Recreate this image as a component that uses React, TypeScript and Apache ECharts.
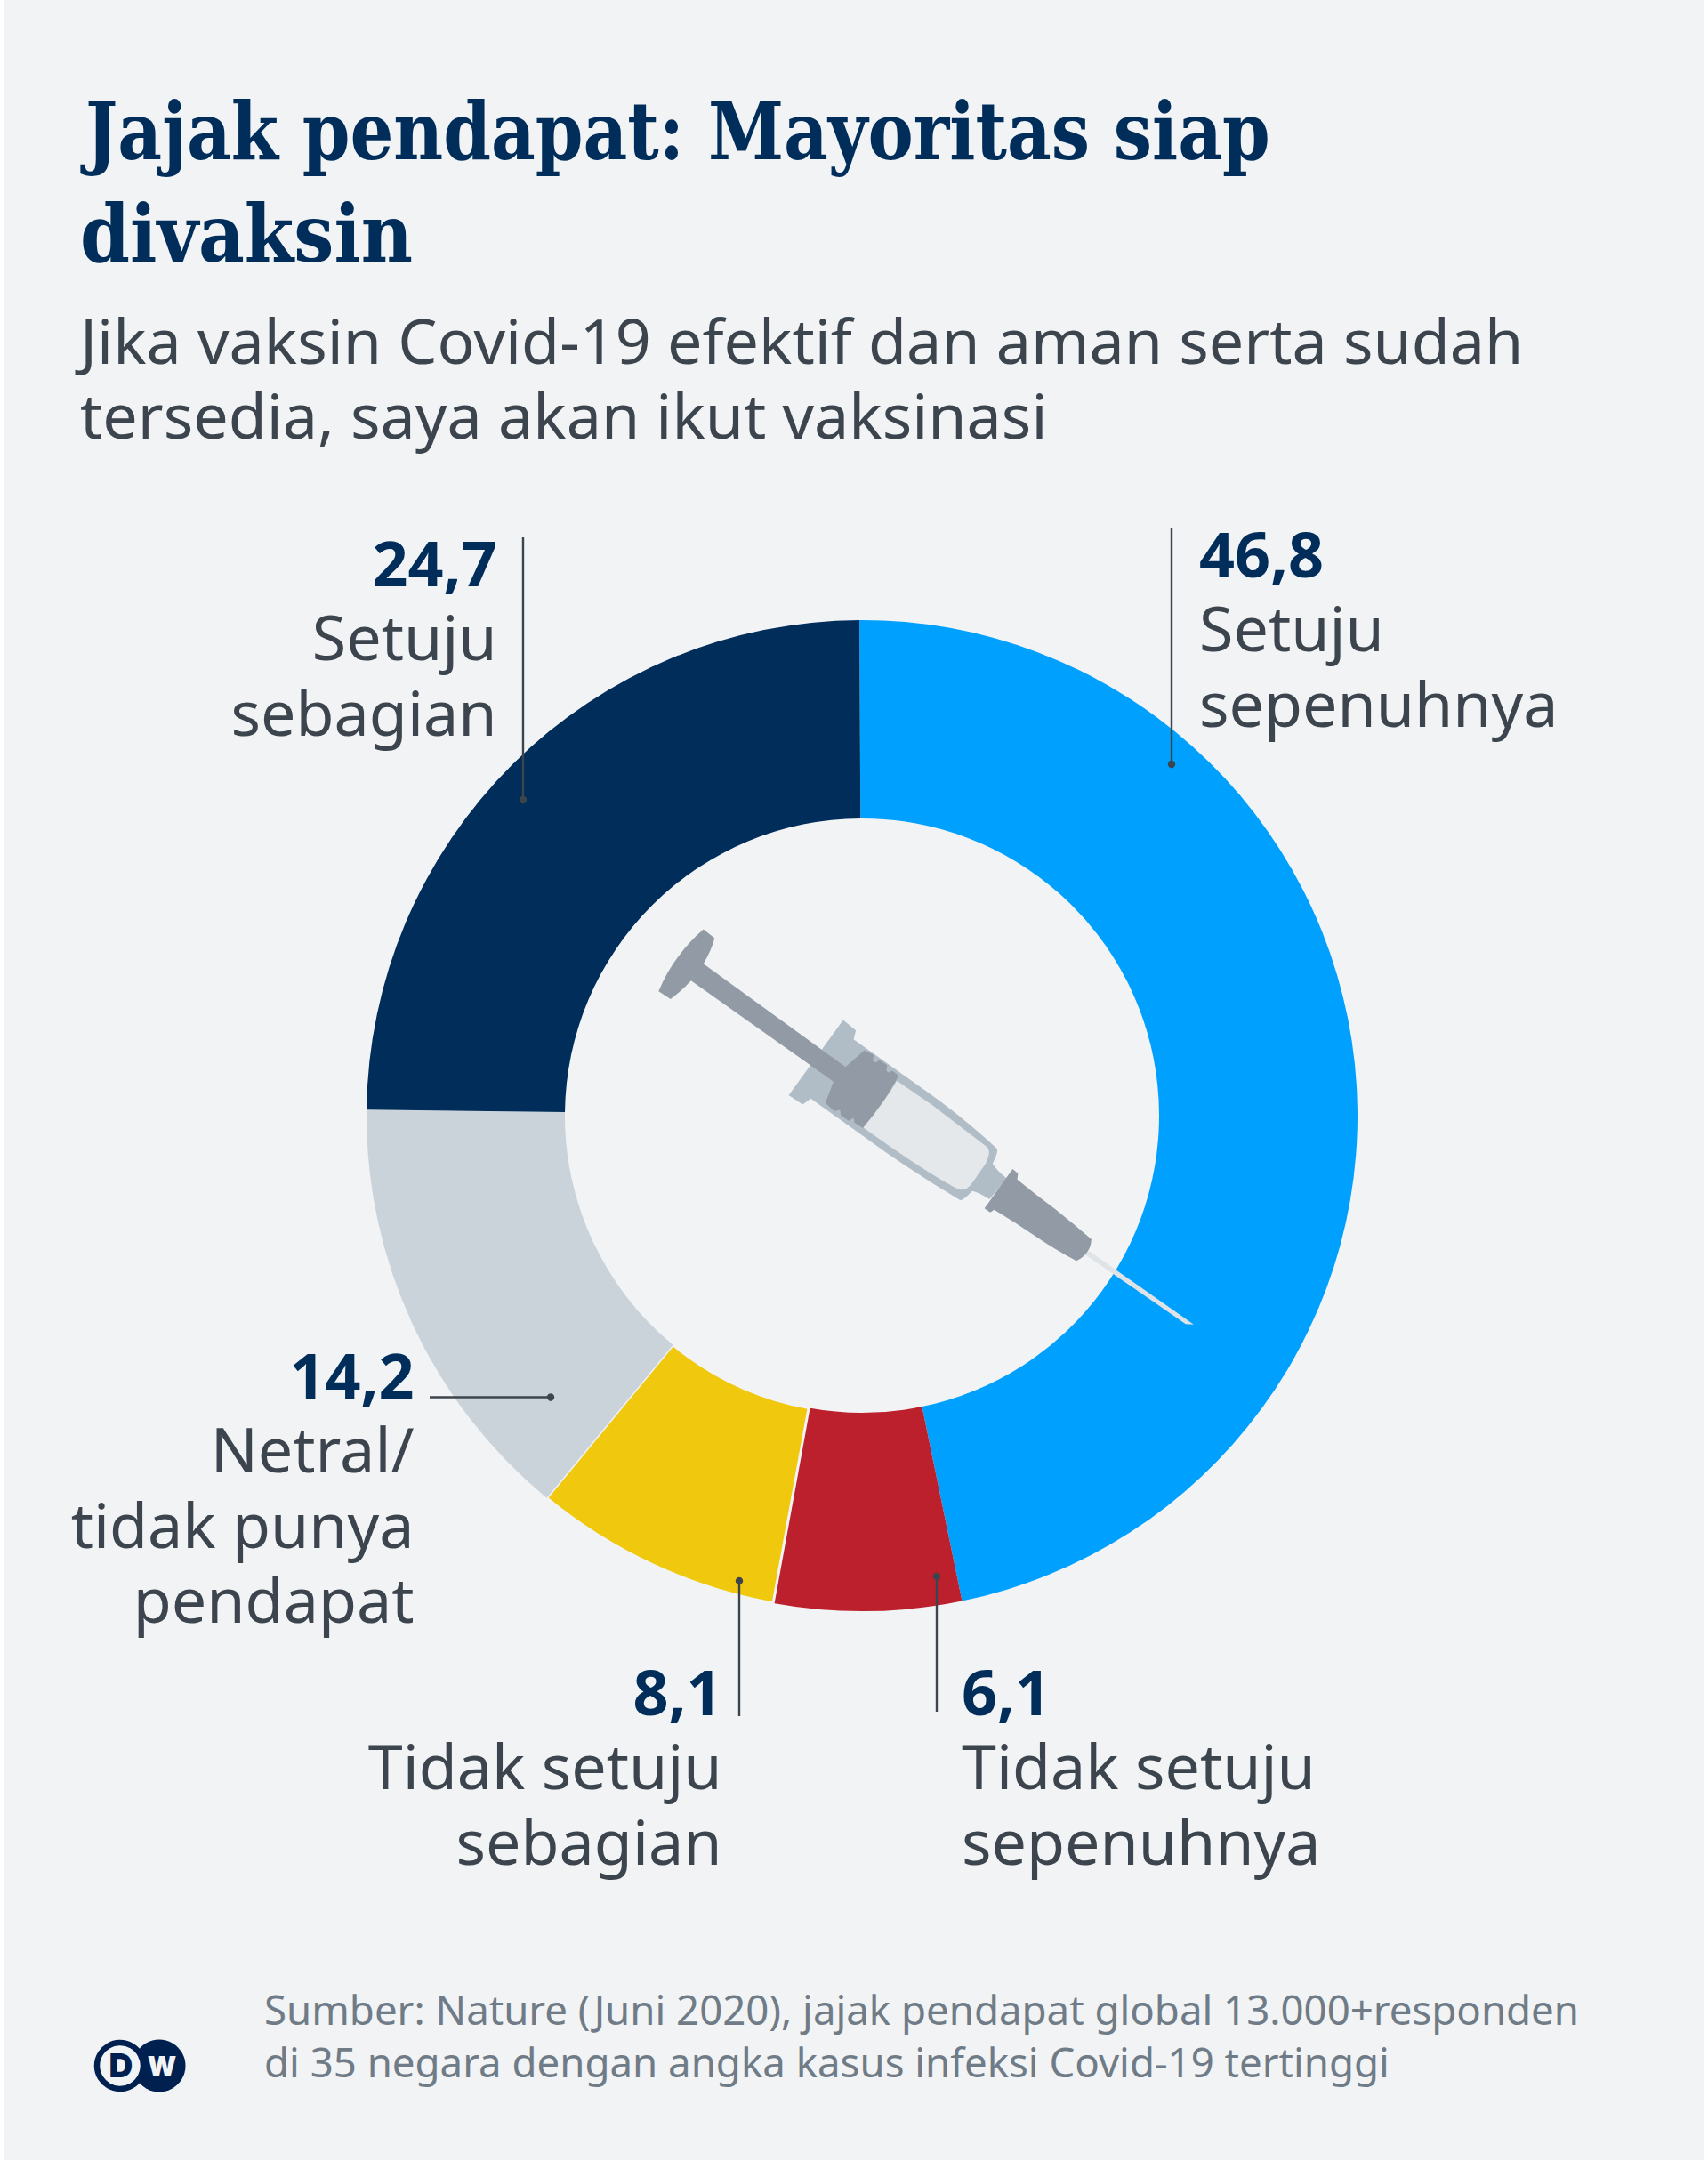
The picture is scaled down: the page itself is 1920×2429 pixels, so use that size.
import React, { useEffect, useRef } from "react";
import * as echarts from "echarts";

const categories = ["Setuju sepenuhnya", "Tidak setuju sepenuhnya", "Tidak setuju sebagian", "Netral/tidak punya pendapat", "Setuju sebagian"];
const values = [46.8, 6.1, 8.1, 14.2, 24.7];
const colors = ["#00a0ff", "#bc202d", "#f0c80e", "#cbd3da", "#002d5a"];
const valueLabels = ["46,8", "6,1", "8,1", "14,2", "24,7"];
const nameLines = [["Setuju", "sepenuhnya"], ["Tidak setuju", "sepenuhnya"], ["Tidak setuju", "sebagian"], ["Netral/", "tidak punya", "pendapat"], ["Setuju", "sebagian"]];
const labelX = [1348, 1081, 811.5, 465.5, 558.5];
const labelY = [648, 1927, 1927, 1571, 658];
const labelAlign = ["left", "left", "right", "right", "right"];
const leaders = [
  [1317, 594, 1317, 859],
  [1053, 1924, 1053, 1772],
  [831, 1929, 831, 1777],
  [483, 1570.5, 619, 1570.5],
  [588, 604, 588, 899],
];
const titleLines = ["Jajak pendapat: Mayoritas siap", "divaksin"];
const subtitleLines = ["Jika vaksin Covid-19 efektif dan aman serta sudah", "tersedia, saya akan ikut vaksinasi"];
const sourceLines = ["Sumber: Nature (Juni 2020), jajak pendapat global 13.000+responden", "di 35 negara dengan angka kasus infeksi Covid-19 tertinggi"];

const SANS = '"Noto Sans", sans-serif';
const SERIF = '"DejaVu Serif Condensed", "Liberation Serif", serif';
const BG = "#f1f3f5";

function text(t: string, x: number, baseline: number, size: number, color: string, family: string, weight: any, align = "left", scaleX = 1, k = 0.39) {
  return {
    type: "text", x, y: baseline - size * k, z: 100, scaleX, originX: 0,
    style: { text: t, fontSize: size, fontFamily: family, fontWeight: weight, fill: color, textAlign: align, textVerticalAlign: "middle" },
  };
}

const shapes: Record<string, string> = {
  syrBarrel: "M571 440L604 475L598 505L820 712Q900 790 970 875Q972 890 958 925Q970 950 995 975L950 1045Q920 1020 905 1017Q885 1045 875 1049Q780 975 680 885L487 705L466 725L430 694Z",
  syrLiquid: "M710 645L800 725Q880 805 945 870Q955 885 940 925L905 990Q890 1018 870 1012Q780 950 622 802Q680 715 710 645Z",
  syrPlunger: "M209 134L238 164Q230 205 209 250L577 598L626 542L650 558L648 578L655 583L665 575L685 592L683 612L690 618L698 610L715 628Q680 715 622 805L600 786L598 770L585 780L565 762L563 743L548 748L525 720L546 648L177 307Q150 345 124 369L93 343Q130 225 209 134Z",
  syrHub: "M1010 943L1024 958L1022 978Q1070 1030 1120 1078Q1170 1130 1214 1180Q1212 1230 1175 1253Q1120 1215 1075 1175Q1020 1125 962 1080L952 1089L937 1076Z",
  syrNeedle: "M1208 1220L1479 1468L1458 1466L1198 1232Z",
};
const syringeParts = [
  ["syrNeedle", "#e0e3e6"],
  ["syrBarrel", "#b1bdc6"],
  ["syrLiquid", "#e4e8eb"],
  ["syrPlunger", "#929aa5"],
  ["syrHub", "#929aa5"],
];
Object.keys(shapes).forEach((n) => echarts.graphic.registerShape(n, echarts.graphic.extendPath(shapes[n], {})));

export default function App() {
  const ref = useRef<HTMLDivElement>(null);
  useEffect(() => {
    const chart = echarts.init(ref.current!, undefined, { renderer: "svg" });
    const elements: any[] = [
      { type: "rect", z: -1, shape: { x: 5, y: 0, width: 1911, height: 2428 }, style: { fill: BG } },
    ];
    titleLines.forEach((t, i) =>
      elements.push(text(t, i === 0 ? 96 : 90, [180, 295][i], 89, "#002d5a", SERIF, 700, "left", i === 0 ? 0.96 : 1, 0.36))
    );
    subtitleLines.forEach((t, i) => elements.push(text(t, 90, [409, 493][i], 70, "#3c444d", SANS, 400)));
    sourceLines.forEach((t, i) => elements.push(text(t, 297, [2275, 2334][i], 45.6, "#6f7b86", SANS, 400, "left", 1, 0.375)));
    syringeParts.forEach(([n, c]) =>
      elements.push({ type: n, z: 50, x: 700, y: 1000, scaleX: 1 / 2.306, scaleY: 1 / 3, style: { fill: c } })
    );
    values.forEach((_, i) => {
      const [x1, y1, x2, y2] = leaders[i];
      elements.push({ type: "line", z: 60, shape: { x1, y1, x2, y2 }, style: { stroke: "#3c444d", lineWidth: 2.4 } });
      elements.push({ type: "circle", z: 61, shape: { cx: x2, cy: y2, r: 4.2 }, style: { fill: "#3c444d" } });
      elements.push(text(valueLabels[i], labelX[i], labelY[i], 70, "#002d5a", SANS, 700, labelAlign[i], 1, 0.37));
      nameLines[i].forEach((t, j) =>
        elements.push(text(t, labelX[i], labelY[i] + 84.5 * (j + 1), 70, "#3c444d", SANS, 400, labelAlign[i]))
      );
    });
    // DW logo: the ringed D circle lies on top of the filled W circle
    elements.push({ type: "circle", z: 70, shape: { cx: 179, cy: 2322, r: 29.5 }, style: { fill: "#002050" } });
    elements.push({ type: "circle", z: 71, shape: { cx: 135, cy: 2322, r: 26 }, style: { fill: BG, stroke: "#002050", lineWidth: 6.5 } });
    elements.push({ type: "text", z: 72, x: 135.8, y: 2321, style: { text: "D", fontSize: 37, fontFamily: "Inter", fontWeight: 900, fill: "#002050", textAlign: "center", textVerticalAlign: "middle" } });
    elements.push({ type: "text", z: 72, x: 182, y: 2322, style: { text: "W", fontSize: 30, fontFamily: "Inter", fontWeight: 900, fill: BG, textAlign: "center", textVerticalAlign: "middle" } });

    chart.setOption({
      animation: false,
      backgroundColor: "#ffffff",
      graphic: { elements },
      series: [
        {
          type: "pie",
          center: [969, 1254],
          radius: [334, 557],
          startAngle: 90.3,
          clockwise: true,
          silent: true,
          label: { show: false },
          labelLine: { show: false },
          data: values.map((v, i) => ({
            name: categories[i],
            value: v,
            itemStyle: i === 2 ? { color: colors[i], borderColor: BG, borderWidth: 3 } : { color: colors[i] },
          })),
        },
      ],
    });
    return () => chart.dispose();
  }, []);
  return <div ref={ref} style={{ position: "absolute", left: 0, top: 0, width: 1920, height: 2429 }} />;
}
